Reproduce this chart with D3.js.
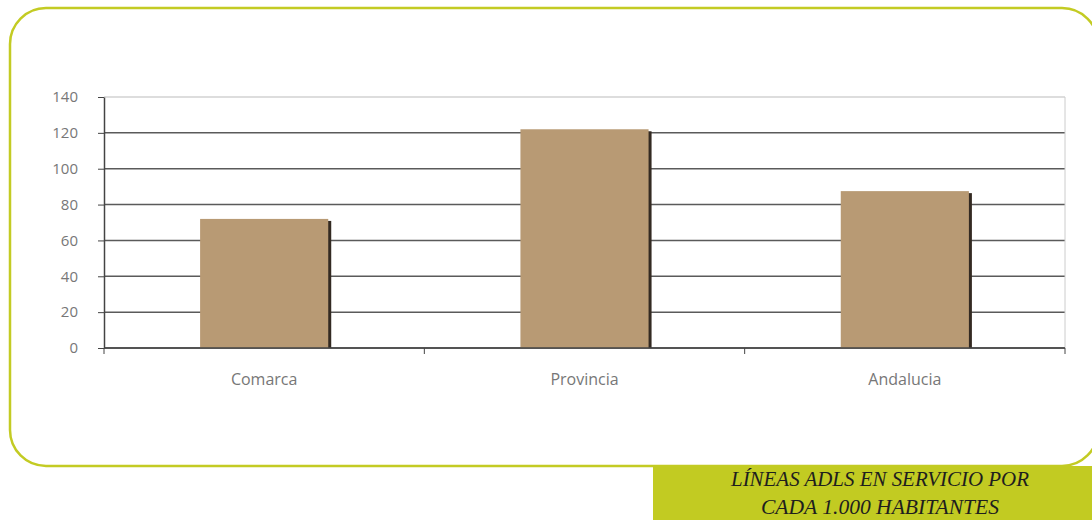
<!DOCTYPE html>
<html>
<head>
<meta charset="utf-8">
<script src="https://cdn.jsdelivr.net/npm/d3@7"></script>
<style>
  body { margin: 0; background: #ffffff; }
  svg { display: block; }
</style>
</head>
<body>
<div id="chart"></div>
<script>
// data
var categories = ["Comarca", "Provincia", "Andalucia"];
var values = [72, 122, 87.5];
var yTicks = [0, 20, 40, 60, 80, 100, 120, 140];
var titleLines = ["LÍNEAS ADLS EN SERVICIO POR", "CADA 1.000 HABITANTES"];

var W = 1092, H = 520;
var margin = {top: 97, right: 27, bottom: 172, left: 104};
var width = W - margin.left - margin.right,
    height = H - margin.top - margin.bottom;

var svg = d3.select("#chart").append("svg")
    .attr("width", W)
    .attr("height", H);

// rounded green frame
svg.append("rect")
    .attr("x", 10).attr("y", 8)
    .attr("width", 1088).attr("height", 458)
    .attr("rx", 36).attr("ry", 36)
    .attr("fill", "#ffffff")
    .attr("stroke", "#c3cb23")
    .attr("stroke-width", 2.5);

// title box
svg.append("rect")
    .attr("x", 653).attr("y", 466)
    .attr("width", W - 653).attr("height", H - 466)
    .attr("fill", "#c2cb22");

svg.selectAll(".title")
    .data(titleLines)
    .enter().append("text")
    .attr("class", "title")
    .attr("x", 880)
    .attr("y", function(d, i) { return 486 + i * 28; })
    .attr("text-anchor", "middle")
    .attr("font-family", "'Liberation Serif', serif")
    .attr("font-style", "italic")
    .attr("font-size", 21)
    .attr("fill", "#1e1e1e")
    .attr("textLength", function(d, i) { return i == 0 ? 298 : 238; })
    .attr("lengthAdjust", "spacingAndGlyphs")
    .text(function(d) { return d; });

var g = svg.append("g")
    .attr("transform", "translate(" + margin.left + "," + margin.top + ")");

var x = d3.scaleBand()
    .domain(categories)
    .range([0, width])
    .padding(0);

var y = d3.scaleLinear()
    .domain([0, 140])
    .range([height, 0]);

// gridlines
g.selectAll(".grid")
    .data(yTicks)
    .enter().append("line")
    .attr("x1", 0).attr("x2", width)
    .attr("y1", function(d) { return y(d); })
    .attr("y2", function(d) { return y(d); })
    .attr("stroke", function(d) { return d == 140 ? "#dddddd" : "#5a5a5a"; })
    .attr("stroke-width", function(d) { return d == 140 ? 2 : 1.5; });

// right border of plot
g.append("line")
    .attr("x1", width).attr("x2", width)
    .attr("y1", 0).attr("y2", height)
    .attr("stroke", "#cccccc");

// y axis
var yAxis = g.append("g")
    .call(d3.axisLeft(y).tickValues(yTicks).tickSize(6).tickSizeOuter(0));
yAxis.select(".domain").attr("stroke", "#444").attr("stroke-width", 1.5);
yAxis.selectAll(".tick line").attr("stroke", "#444");
yAxis.selectAll("text")
    .attr("x", -26)
    .attr("fill", "#777")
    .attr("font-family", "'Open Sans', sans-serif")
    .attr("font-size", 15);

// bars
var barW = x.bandwidth() * 0.4;

g.selectAll(".shadow")
    .data(values)
    .enter().append("rect")
    .attr("class", "shadow")
    .attr("x", function(d, i) { return x(categories[i]) + x.bandwidth() / 2 + barW / 2 - 1; })
    .attr("y", function(d) { return y(d) + 2; })
    .attr("width", 4)
    .attr("height", function(d) { return height - y(d) - 2; })
    .attr("fill", "#332a22");

g.selectAll(".bar")
    .data(values)
    .enter().append("rect")
    .attr("class", "bar")
    .attr("x", function(d, i) { return x(categories[i]) + x.bandwidth() / 2 - barW / 2; })
    .attr("y", function(d) { return y(d); })
    .attr("width", barW)
    .attr("height", function(d) { return height - y(d); })
    .attr("fill", "#b89a74");

// x axis with ticks at band edges
var xAxis = g.append("g")
    .attr("transform", "translate(0," + height + ")");
xAxis.append("line")
    .attr("x1", 0).attr("x2", width)
    .attr("stroke", "#444").attr("stroke-width", 1.5);
xAxis.selectAll(".xtick")
    .data(d3.range(categories.length + 1))
    .enter().append("line")
    .attr("x1", function(i) { return i * x.step(); })
    .attr("x2", function(i) { return i * x.step(); })
    .attr("y1", 0).attr("y2", 6)
    .attr("stroke", "#444");
xAxis.selectAll(".xlabel")
    .data(categories)
    .enter().append("text")
    .attr("x", function(d) { return x(d) + x.bandwidth() / 2; })
    .attr("y", 37)
    .attr("text-anchor", "middle")
    .attr("fill", "#777")
    .attr("font-family", "'Open Sans', sans-serif")
    .attr("font-size", 16)
    .text(function(d) { return d; });
</script>
</body>
</html>
